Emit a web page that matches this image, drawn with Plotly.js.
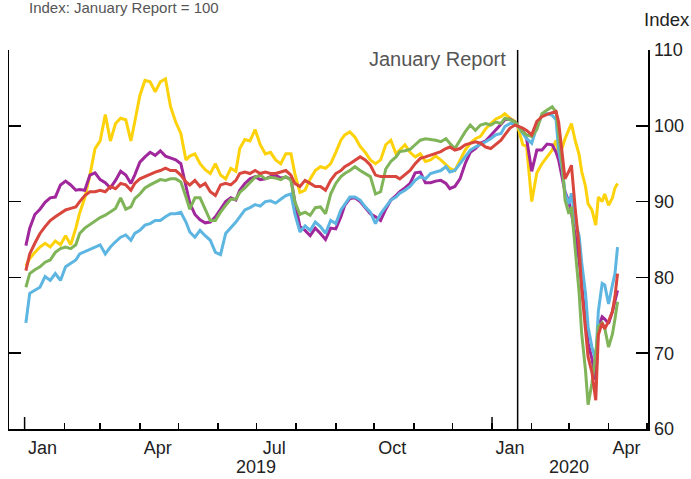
<!DOCTYPE html>
<html><head><meta charset="utf-8">
<script src="https://cdn.plot.ly/plotly-3.0.1.min.js"></script>
<style>html,body{margin:0;padding:0;background:#fff;} #chart{width:691px;height:479px;}</style>
</head><body><div id="chart"></div>
<script>
const dates = [
'2019-01-02','2019-01-05','2019-01-09','2019-01-13','2019-01-17','2019-01-21','2019-01-25','2019-01-29','2019-02-02','2019-02-06',
'2019-02-10','2019-02-13','2019-02-17','2019-02-21','2019-02-25','2019-03-01','2019-03-05','2019-03-09','2019-03-13','2019-03-17',
'2019-03-21','2019-03-25','2019-03-28','2019-04-01','2019-04-05','2019-04-09','2019-04-13','2019-04-17','2019-04-21','2019-04-25',
'2019-04-29','2019-05-03','2019-05-07','2019-05-10','2019-05-14','2019-05-18','2019-05-22','2019-05-26','2019-05-30','2019-06-03',
'2019-06-07','2019-06-11','2019-06-15','2019-06-18','2019-06-22','2019-06-26','2019-06-30','2019-07-04','2019-07-08','2019-07-12',
'2019-07-16','2019-07-20','2019-07-24','2019-07-28','2019-07-31','2019-08-04','2019-08-08','2019-08-12','2019-08-16',
'2019-08-20','2019-08-24','2019-08-28','2019-09-01','2019-09-05','2019-09-08','2019-09-12','2019-09-16','2019-09-20','2019-09-24',
'2019-09-28','2019-10-02','2019-10-06','2019-10-10','2019-10-14','2019-10-18','2019-10-21','2019-10-25','2019-10-29','2019-11-02',
'2019-11-06','2019-11-10','2019-11-14','2019-11-18','2019-11-22','2019-11-26','2019-11-29','2019-12-03','2019-12-07','2019-12-11',
'2019-12-15','2019-12-19','2019-12-23','2019-12-27','2019-12-31','2020-01-04','2020-01-08','2020-01-11','2020-01-15','2020-01-19',
'2020-01-21','2020-01-25','2020-01-28','2020-02-01','2020-02-05','2020-02-09','2020-02-13','2020-02-17','2020-02-20','2020-02-22',
'2020-02-25','2020-02-27','2020-03-01','2020-03-03','2020-03-06','2020-03-09','2020-03-11','2020-03-14','2020-03-16','2020-03-19',
'2020-03-22','2020-03-24','2020-03-27','2020-03-29','2020-04-01','2020-04-04','2020-04-06','2020-04-08'
];
const yellow = [
81.5,82.5,83.3,84.0,84.5,84.0,84.8,84.3,85.5,84.3,
86.5,88.5,90.5,93.5,97.0,98.0,101.5,98.0,100.3,101.0,
100.8,98.0,100.5,104.0,106.0,105.8,104.5,105.8,106.2,102.5,
100.5,99.0,95.5,96.0,96.3,95.0,94.2,93.7,95.0,93.5,
93.0,94.4,94.0,97.0,98.2,98.0,99.5,97.5,96.3,96.5,
95.5,95.0,96.3,96.3,93.7,91.2,91.5,93.0,94.1,
94.6,94.4,95.0,96.5,98.1,98.8,99.2,98.5,97.3,96.5,
95.5,95.0,95.5,97.5,98.1,96.3,96.8,97.5,96.5,95.9,
96.3,95.3,95.5,96.0,95.5,94.8,94.4,94.1,95.5,96.8,
97.7,98.3,98.6,99.6,100.3,100.9,101.2,101.6,101.0,100.6,
100.0,97.5,97.3,90.0,93.8,95.0,95.9,96.8,98.1,96.0,
97.2,98.3,99.5,100.3,98.0,96.2,94.0,92.0,89.7,88.9,
86.9,90.6,90.0,91.0,89.5,90.5,91.8,92.4
];
const purple = [
84.2,86.5,88.3,89.0,89.9,90.5,90.6,92.2,92.7,92.2,
91.5,91.6,91.5,93.5,93.8,92.9,92.5,91.8,92.8,94.0,
93.5,92.4,93.5,95.2,95.9,96.5,96.1,96.7,96.0,95.7,
95.5,95.0,91.8,89.8,88.3,87.6,87.2,87.3,88.0,89.0,
90.0,90.5,90.2,91.5,92.4,93.0,93.3,92.9,93.0,93.3,
93.5,93.1,93.2,93.0,90.0,86.7,86.2,85.5,86.5,
85.8,85.0,86.5,86.4,88.0,89.5,90.4,90.5,90.0,89.2,
88.4,88.0,87.5,89.0,90.2,90.8,91.3,91.8,92.4,93.8,
93.9,92.5,92.5,92.7,92.8,92.4,91.7,92.0,93.0,95.0,
96.5,97.0,97.7,98.0,98.7,99.5,100.2,100.8,100.9,100.5,
100.0,99.4,98.3,94.0,96.8,96.8,97.6,97.5,96.5,95.5,
93.0,91.3,90.0,88.5,85.5,82.3,79.0,74.5,71.3,69.3,
66.5,73.5,74.8,74.5,73.9,75.5,77.0,78.3
];
const red = [
80.9,83.1,84.5,85.8,86.7,87.5,88.0,88.4,88.9,89.1,
89.3,90.0,90.8,91.3,91.3,91.5,91.3,92.0,91.7,92.4,
92.2,91.5,92.4,93.0,93.3,93.7,93.9,94.1,94.4,94.1,
94.1,93.5,92.6,92.2,92.8,92.0,92.4,91.3,90.8,92.2,
92.4,92.2,92.8,93.7,93.9,93.7,94.1,93.7,93.9,93.7,
93.7,93.9,94.1,93.5,92.4,92.0,92.8,92.4,92.0,
92.0,91.5,92.8,93.7,94.1,94.6,95.0,95.5,95.9,95.5,
94.8,93.5,93.3,93.3,93.3,93.3,93.0,93.5,94.1,95.0,
95.7,95.9,96.1,96.3,96.6,97.0,97.2,96.8,97.0,97.5,
97.7,97.9,97.7,97.2,97.0,97.5,98.1,98.8,99.7,100.1,
100.0,99.7,99.4,98.8,100.6,101.2,101.5,101.7,101.9,100.5,
95.5,93.0,94.0,94.8,89.0,84.0,78.5,72.5,69.5,67.5,
63.8,72.4,74.0,73.2,74.2,75.5,77.5,80.5
];
const green = [
78.7,80.5,81.0,81.4,82.0,82.3,83.3,83.8,84.0,83.8,
84.3,85.8,86.5,87.0,87.5,87.9,88.2,88.7,89.1,90.5,
89.0,89.3,90.4,91.0,91.8,92.2,92.6,92.9,92.8,93.0,
93.0,92.6,90.6,89.0,90.5,90.5,89.0,87.5,87.5,88.6,
89.5,90.3,90.3,91.2,91.8,92.5,93.2,93.5,93.0,93.2,
93.1,92.9,93.3,92.8,90.0,88.3,88.6,88.2,89.2,
89.3,88.4,91.0,92.4,93.3,93.7,94.1,94.6,94.1,93.7,
93.3,91.0,91.3,94.3,95.3,95.9,96.6,96.7,96.9,97.5,
98.1,98.3,98.2,98.1,97.9,98.3,97.7,97.0,98.1,99.2,
100.1,99.4,100.1,100.3,100.1,100.5,100.3,101.0,100.8,100.5,
100.0,99.2,98.8,98.6,99.5,101.6,102.1,102.5,101.8,98.6,
94.6,90.2,88.4,89.3,84.0,78.0,72.6,67.7,63.2,66.0,
70.0,73.5,74.0,73.3,70.8,72.5,74.5,76.8
];
const blue = [
74.0,77.9,78.3,78.7,80.1,79.6,80.5,79.6,81.4,81.8,
82.3,83.1,83.4,83.8,84.0,84.3,83.1,84.0,84.7,85.3,
85.6,84.9,85.8,86.2,86.9,87.1,87.5,87.5,88.0,88.4,
88.4,88.6,87.3,86.0,85.3,86.2,85.5,84.9,83.3,83.0,
85.8,86.5,87.3,88.0,88.9,89.2,89.6,89.4,90.0,90.1,
89.8,90.3,90.8,91.0,88.4,86.0,86.8,86.2,87.3,
86.7,85.8,87.5,87.1,88.9,89.7,90.6,90.6,90.2,89.3,
88.6,87.1,88.4,89.3,90.2,90.6,91.1,91.5,92.0,92.8,
93.3,93.0,93.7,93.9,94.1,94.6,93.9,94.1,95.0,95.9,
96.8,97.2,97.5,97.9,98.3,98.8,99.0,99.9,100.3,100.3,
100.0,99.0,98.3,97.7,99.9,101.4,101.6,101.4,100.8,96.8,
94.1,91.1,89.7,91.1,87.5,85.5,82.0,77.9,73.5,70.8,
69.1,75.5,79.2,79.0,76.5,79.0,80.5,84.0
];
const monthLabelDates = ['2019-01-15','2019-04-15','2019-07-15','2019-10-15','2020-01-15','2020-04-15'];
const monthLabels = ['Jan','Apr','Jul','Oct','Jan','Apr'];
const yearLabelDates = ['2019-07-01','2020-03-01'];
const yearLabels = ['2019','2020'];
const yearStarts = ['2019-01-01','2020-01-01'];
const reportDate = '2020-01-21';
const yTicks = [60,70,80,90,100,110];

const series = [
  {y: yellow, color: '#FDD20A'},
  {y: purple, color: '#A0279C'},
  {y: blue,   color: '#5DB5E1'},
  {y: green,  color: '#80B458'},
  {y: red,    color: '#D8463D'}
];
const traces = series.map(s => ({
  x: dates, y: s.y, type: 'scatter', mode: 'lines',
  line: {color: s.color, width: 3}, hoverinfo: 'skip'
}));

const PH = 379;
const shapes = [
  {type:'line', xref:'x', yref:'paper', x0:reportDate, x1:reportDate, y0:0, y1:1, layer:'below', line:{color:'#000', width:1.5}}
].concat(yearStarts.map(d => ({type:'line', xref:'x', yref:'paper', x0:d, x1:d, y0:0, y1:12/PH, line:{color:'#000', width:1.5}})));

const annotations = [
  {text:'Index: January Report = 100', xref:'paper', yref:'paper', x:0.0282, y:1.113, xanchor:'left', yanchor:'middle', showarrow:false, font:{size:15, color:'#555'}},
  {text:'Index', xref:'paper', yref:'paper', x:1.0297, y:1.0792, xanchor:'center', yanchor:'middle', showarrow:false, font:{size:18.5, color:'#222'}},
  {text:'January Report', xref:'x', yref:'paper', x:reportDate, xshift:-10, y:0.976, xanchor:'right', yanchor:'middle', showarrow:false, font:{size:20, color:'#555'}}
].concat(yearLabelDates.map((d,i) => ({text:yearLabels[i], xref:'x', yref:'paper', x:d, y:-0.1, xanchor:'center', yanchor:'middle', showarrow:false, borderpad:0, font:{size:18, color:'#222'}})));

const layout = {
  width:691, height:479,
  margin:{l:9, r:43, t:50, b:50},
  paper_bgcolor:'#fff', plot_bgcolor:'#fff',
  showlegend:false,
  font:{family:'"Liberation Sans", Arial, sans-serif', size:18, color:'#222'},
  xaxis:{type:'date', range:['2018-12-19 19:40','2020-05-01 19:00'], showgrid:false, zeroline:false,
    showline:true, linecolor:'#000', linewidth:1.5,
    tickmode:'array', tickvals:monthLabelDates, ticktext:monthLabels, ticks:'', tickfont:{size:18, color:'#222'},
    ticklabelstandoff:2,
    minor:{ticks:'inside', ticklen:6, tickwidth:1.5, tickcolor:'#000', dtick:'M1', tick0:'2019-01-01', showgrid:false},
    automargin:false, fixedrange:true},
  yaxis:{side:'right', range:[60,110], tickmode:'array', tickvals:yTicks, ticks:'inside', ticklen:12, tickwidth:1.5, tickcolor:'#000',
    showline:true, linecolor:'#000', linewidth:1.5, mirror:'ticks', showgrid:false, zeroline:false,
    tickfont:{size:18, color:'#222'}, ticklabelstandoff:1, automargin:false, fixedrange:true},
  shapes: shapes,
  annotations: annotations
};
Plotly.newPlot('chart', traces, layout, {staticPlot:true, displayModeBar:false});
</script>
</body></html>
